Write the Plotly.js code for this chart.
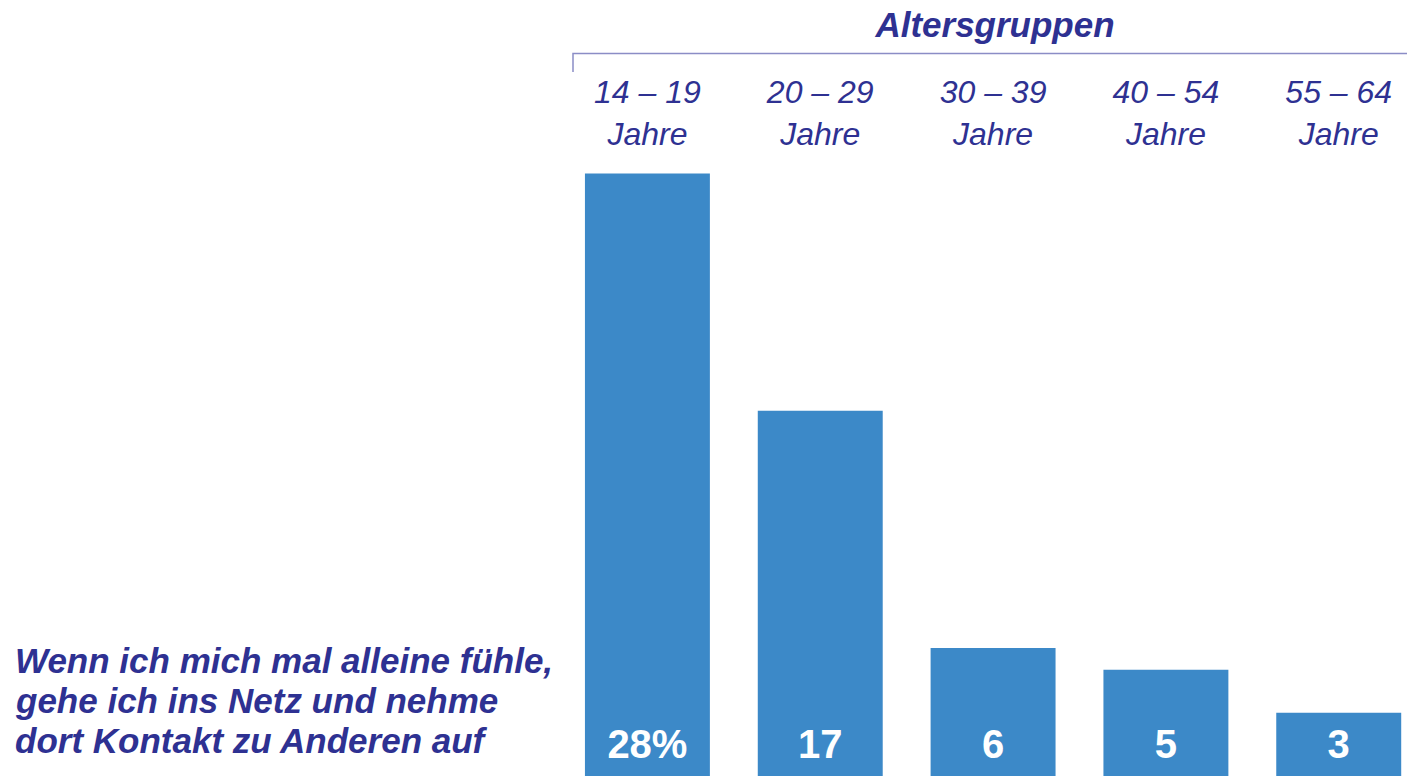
<!DOCTYPE html>
<html><head><meta charset="utf-8">
<script src="https://cdn.plot.ly/plotly-3.0.1.min.js"></script>
<style>html,body{margin:0;padding:0;background:#fff;}#chart{width:1407px;height:776px;}</style>
</head><body><div id="chart"></div>
<script>
const categories = ["14 – 19<br>Jahre", "20 – 29<br>Jahre", "30 – 39<br>Jahre", "40 – 54<br>Jahre", "55 – 64<br>Jahre"];
const values = [28, 17, 6, 5, 3];
const valueLabels = ["28%", "17", "6", "5", "3"];
const groupTitle = "Altersgruppen";
const statementLines = ["Wenn ich mich mal alleine fühle,", "gehe ich ins Netz und nehme", "dort Kontakt zu Anderen auf"];

const TXT = "#2e3192";
const BAR = "#3c89c8";
const FONT = "Liberation Sans, Arial, sans-serif";

const W = 1407, H = 776, L = 561, T = 160;
const plotH = H - T;
const pxPerUnit = 21.57;
const y0 = 1.5 / pxPerUnit;
const yTop = plotH / pxPerUnit + y0;
const py = (pix) => (H - pix) / plotH;
const px = (pix) => (pix - L) / (W - L);

const traces = [
  {type: "bar", x: categories, y: values, marker: {color: BAR}, hoverinfo: "skip"},
  {type: "scatter", mode: "text", x: categories, y: values.map(() => 30 / pxPerUnit),
   text: valueLabels, textposition: "middle center",
   textfont: {family: FONT, size: 40, color: "#ffffff", weight: "bold"}, hoverinfo: "skip"}
];

const annotations = statementLines.map((s, i) => ({
  text: s, xref: "paper", yref: "paper", x: px(13), y: py(660 + 40 * i),
  xanchor: "left", yanchor: "middle", showarrow: false,
  font: {family: FONT, size: 35, color: TXT, weight: "bold", style: "italic"}
}));

const layout = {
  width: W, height: H,
  margin: {l: L, r: 0, t: T, b: 0, pad: 0},
  paper_bgcolor: "#fff", plot_bgcolor: "#fff",
  showlegend: false,
  bargap: 0.277,
  title: {text: groupTitle, xref: "container", yref: "container", x: 995 / W, y: 1 - 25 / H,
          xanchor: "center", yanchor: "middle",
          font: {family: FONT, size: 35, color: TXT, weight: "bold", style: "italic"}},
  xaxis: {type: "category", range: [-0.5, 4.395], side: "top", showgrid: false, zeroline: false,
          showline: false, ticks: "", fixedrange: true, ticklabelstandoff: 8,
          tickfont: {family: FONT, size: 32, color: TXT, style: "italic"}},
  yaxis: {range: [y0, yTop], visible: false, showgrid: false, zeroline: false, fixedrange: true},
  shapes: [{type: "path", xref: "paper", yref: "paper",
            path: `M ${px(573)} ${py(72)} L ${px(573)} ${py(53.5)} L ${px(1407)} ${py(53.5)}`,
            line: {color: "#8b8dc6", width: 1.5}}],
  annotations: annotations
};

Plotly.newPlot("chart", traces, layout, {displayModeBar: false, staticPlot: true});
</script></body></html>
